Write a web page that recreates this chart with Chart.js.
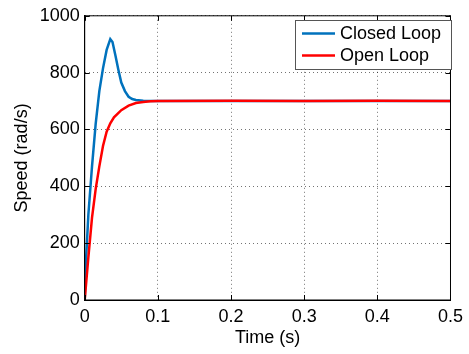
<!DOCTYPE html>
<html>
<head>
<meta charset="utf-8">
<script src="https://cdn.jsdelivr.net/npm/chart.js@4/dist/chart.umd.min.js"></script>
<style>
  html, body { margin: 0; padding: 0; background: #fff; }
  #wrap { width: 469px; height: 354px; position: relative; }
</style>
</head>
<body>
<div id="wrap"><canvas id="c" width="469" height="354"></canvas></div>
<script>
// Closed-loop speed response (time in s, speed in rad/s)
const timeClosed  = [0, 0.002, 0.005, 0.01, 0.015, 0.02, 0.025, 0.03, 0.035, 0.038, 0.042, 0.046, 0.05, 0.055, 0.06, 0.065, 0.07, 0.08, 0.09, 0.1, 0.2, 0.3, 0.4, 0.5];
const speedClosed = [0, 150, 300, 470, 620, 735, 815, 880, 918, 908, 860, 810, 765, 735, 715, 707, 704, 701, 700, 700, 700, 700, 700, 700];

// Open-loop speed response
const timeOpen  = [0, 0.005, 0.01, 0.015, 0.02, 0.025, 0.03, 0.035, 0.04, 0.05, 0.06, 0.07, 0.08, 0.09, 0.1, 0.2, 0.3, 0.4, 0.5];
const speedOpen = [0, 150, 290, 390, 470, 542, 592, 622, 643, 668, 684, 693, 697, 699, 700, 701, 700, 701, 700];

const seriesNames  = ['Closed Loop', 'Open Loop'];
const seriesColors = ['#0072BD', '#FF0000'];

const xTicks = [0, 0.1, 0.2, 0.3, 0.4, 0.5];
const yTicks = [0, 200, 400, 600, 800, 1000];

const FONT = 'Liberation Sans, Arial, Helvetica, sans-serif';
const FSIZE = 18;

function pairs(xs, ys) { return xs.map((x, i) => ({ x: x, y: ys[i] })); }

// Box around the plot, inward tick marks on all sides, and an in-plot legend
const framePlugin = {
  id: 'frame',
  afterDatasetsDraw(chart) {
    const { ctx, chartArea: a, scales } = chart;
    ctx.save();
    ctx.strokeStyle = '#000';
    ctx.lineWidth = 1;
    ctx.strokeRect(a.left, a.top, a.right - a.left, a.bottom - a.top);
    const len = 5;
    ctx.beginPath();
    xTicks.forEach(v => {
      const px = Math.round(scales.x.getPixelForValue(v)) + 0.5;
      ctx.moveTo(px, a.bottom); ctx.lineTo(px, a.bottom - len);
      ctx.moveTo(px, a.top); ctx.lineTo(px, a.top + len);
    });
    yTicks.forEach(v => {
      const py = Math.round(scales.y.getPixelForValue(v)) + 0.5;
      ctx.moveTo(a.left, py); ctx.lineTo(a.left + len, py);
      ctx.moveTo(a.right, py); ctx.lineTo(a.right - len, py);
    });
    ctx.stroke();

    // legend
    const bx = 295.5, by = 20.5, bw = 156, bh = 49;
    ctx.fillStyle = '#fff';
    ctx.fillRect(bx, by, bw, bh);
    ctx.strokeStyle = '#555';
    ctx.strokeRect(bx, by, bw, bh);
    ctx.font = FSIZE + 'px ' + FONT;
    ctx.textBaseline = 'middle';
    ctx.textAlign = 'left';
    chart.data.datasets.forEach((ds) => {
      const idx = seriesNames.indexOf(ds.label);
      const y = 33.5 + idx * 22;
      ctx.strokeStyle = ds.borderColor;
      ctx.lineWidth = 2.5;
      ctx.beginPath();
      ctx.moveTo(302, y); ctx.lineTo(335, y);
      ctx.stroke();
      ctx.fillStyle = '#000';
      ctx.fillText(ds.label, 340, y + 1);
    });
    ctx.restore();
  }
};

new Chart(document.getElementById('c'), {
  type: 'line',
  data: {
    datasets: [
      { label: seriesNames[0], data: pairs(timeClosed, speedClosed), borderColor: seriesColors[0],
        borderWidth: 2.5, pointRadius: 0, tension: 0, fill: false, order: 1 },
      { label: seriesNames[1], data: pairs(timeOpen, speedOpen), borderColor: seriesColors[1],
        borderWidth: 2.5, pointRadius: 0, tension: 0, fill: false, order: 0 }
    ]
  },
  options: {
    responsive: false,
    animation: false,
    events: [],
    layout: { padding: { left: 0, right: 14, top: 14, bottom: 0 } },
    plugins: { legend: { display: false }, tooltip: { enabled: false } },
    scales: {
      x: {
        type: 'linear', min: 0, max: 0.5,
        afterBuildTicks(s) { s.ticks = xTicks.map(v => ({ value: v })); },
        afterFit(s) { s.height = 54; },
        ticks: { color: '#000', font: { family: FONT, size: FSIZE }, padding: 6, maxRotation: 0,
                 callback: v => String(v) },
        grid: { color: 'rgba(0,0,0,0.55)', lineWidth: 1, drawTicks: false },
        border: { display: true, color: '#000', dash: [1, 3] },
        title: { display: true, text: 'Time (s)', color: '#000', font: { family: FONT, size: FSIZE }, padding: { top: 0, bottom: 5 } }
      },
      y: {
        min: 0, max: 1000,
        afterBuildTicks(s) { s.ticks = yTicks.map(v => ({ value: v })); },
        afterFit(s) { s.width = 84.7; },
        ticks: { color: '#000', font: { family: FONT, size: FSIZE }, padding: 5,
                 callback: v => String(v) },
        grid: { color: 'rgba(0,0,0,0.55)', lineWidth: 1, drawTicks: false },
        border: { display: true, color: '#000', dash: [1, 3] },
        title: { display: true, text: 'Speed (rad/s)', color: '#000', font: { family: FONT, size: FSIZE }, padding: { top: 11, bottom: 0 } }
      }
    }
  },
  plugins: [framePlugin]
});
</script>
</body>
</html>
